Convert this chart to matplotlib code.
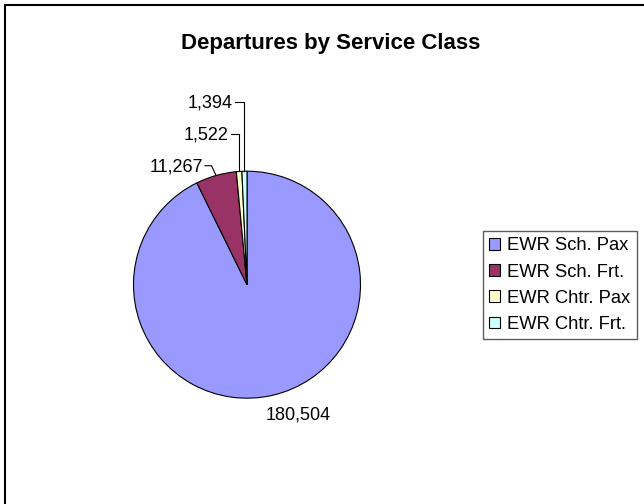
import numpy as np
import matplotlib
matplotlib.use("Agg")
import matplotlib.pyplot as plt
from matplotlib.patches import Patch

plt.rcParams['font.family'] = ['Liberation Sans', 'DejaVu Sans']

# data
classes = ['EWR Sch. Pax', 'EWR Sch. Frt.', 'EWR Chtr. Pax', 'EWR Chtr. Frt.']
departures = [180504, 11267, 1522, 1394]
colors = ['#9999FF', '#993366', '#FFFFCC', '#CCFFFF']

W, H = 644, 504
fig = plt.figure(figsize=(W / 100, H / 100), dpi=100)
ax = fig.add_axes([0, 0, 1, 1])
ax.set_aspect('equal')

cx, cy, r = 247, H - 284.7, 113.5
wedges, _ = ax.pie(departures, colors=colors, startangle=90, counterclock=False,
                   center=(cx, cy), radius=r, frame=True,
                   wedgeprops=dict(edgecolor='black', linewidth=0.8))
ax.set_xlim(0, W)
ax.set_ylim(0, H)
ax.axis('off')

# label layout: (text right edge x, text y, elbow x or None)
layout = [
    (330.6, H - 415, None),
    (203, H - 166.7, 211.5),
    (228.8, H - 135, None),
    (233, H - 103, None),
]

for w, val, (tx, ty, ex) in zip(wedges, departures, layout):
    mid = np.deg2rad((w.theta1 + w.theta2) / 2)
    px, py = cx + r * np.cos(mid), cy + r * np.sin(mid)
    ax.text(tx, ty, f'{val:,}', ha='right', va='center', fontsize=13)
    if ty < cy:
        continue  # big slice label has no leader line
    if ex is None:
        ex = px
    ax.plot([tx + 2, ex, px], [ty + 1, ty + 1, py], color='black', lw=0.8,
            solid_joinstyle='miter')

ax.text(331, H - 43, 'Departures by Service Class', ha='center', va='center',
        fontsize=16, fontweight='bold')

# chart border (only top and left fall inside the picture)
ax.plot([5, 5, W + 5], [-5, H - 5, H - 5], color='black', lw=1.5,
        solid_joinstyle='miter', clip_on=False)

handles = [Patch(facecolor=c, edgecolor='black', linewidth=0.8) for c in colors]
leg = fig.legend(handles, classes, loc='upper left',
                 bbox_to_anchor=(483 / W, 1 - 231 / H), fontsize=13.2,
                 frameon=True, fancybox=False, borderaxespad=0,
                 handlelength=0.6, handleheight=0.6, handletextpad=0.35,
                 labelspacing=0.5, borderpad=0.35)
leg.get_frame().set_edgecolor('#333333')
leg.get_frame().set_linewidth(1.0)

fig.savefig('out.png', dpi=100)
